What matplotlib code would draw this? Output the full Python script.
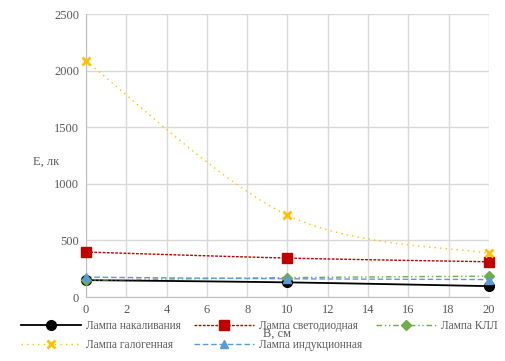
import numpy as np
import matplotlib.pyplot as plt

x = [0, 10, 20]
nakal = [150, 130, 97]
svetod = [398, 345, 312]
kll = [150, 172, 185]
galog = [2085, 724, 386]
indukc = [176, 162, 155]

labels = ['Лампа накаливания', 'Лампа светодиодная', 'Лампа КЛЛ',
          'Лампа галогенная', 'Лампа индукционная']


def smooth(xs, ys, n=40):
    # excel-like bezier smoothing
    xs = np.asarray(xs, float)
    ys = np.asarray(ys, float)
    px = np.concatenate([[xs[0]], xs, [xs[-1]]])
    py = np.concatenate([[ys[0]], ys, [ys[-1]]])
    ox, oy = [], []
    for i in range(1, len(px) - 2):
        p0 = np.array([px[i], py[i]])
        p3 = np.array([px[i + 1], py[i + 1]])
        p1 = p0 + (p3 - np.array([px[i - 1], py[i - 1]])) / 6
        p2 = p3 - (np.array([px[i + 2], py[i + 2]]) - p0) / 6
        t = np.linspace(0, 1, n)[:, None]
        b = (1 - t) ** 3 * p0 + 3 * (1 - t) ** 2 * t * p1 + 3 * (1 - t) * t ** 2 * p2 + t ** 3 * p3
        ox.extend(b[:, 0])
        oy.extend(b[:, 1])
    return ox, oy


plt.rcParams['font.family'] = ['Liberation Serif', 'DejaVu Serif']
grey = '#595959'

fig = plt.figure(figsize=(5.06, 3.61), dpi=100)
ax = fig.add_axes([0.170, 0.177, 0.796, 0.784])

styles = [
    dict(color='black', ls='-', marker='o', ms=7, lw=1.3),
    dict(color='#C00000', ls=(0, (2, 1)), marker='s', ms=7, lw=1.0),
    dict(color='#70AD47', ls=(0, (4, 2, 1, 2, 1, 2)), marker='D', ms=5, lw=1.0),
    dict(color='#FFC000', ls=(0, (1, 3)), marker='x', ms=6, lw=1.0),
    dict(color='#5B9BD5', ls=(0, (4, 2)), marker='^', ms=6, lw=1.0),
]
series = [nakal, svetod, kll, galog, indukc]
handles = []
for ys, st, lab in zip(series, styles, labels):
    sx, sy = smooth(x, ys)
    ax.plot(sx, sy, color=st['color'], ls=st['ls'], lw=st['lw'], zorder=2)
    ax.plot(x, ys, ls='none', marker=st['marker'], ms=st['ms'], color=st['color'],
            mew=2 if st['marker'] == 'x' else 1, zorder=3, clip_on=False)
    h, = ax.plot([], [], color=st['color'], ls=st['ls'], lw=st['lw'],
                 marker=st['marker'], ms=st['ms'], mew=2 if st['marker'] == 'x' else 1)
    handles.append(h)

ax.set_xlim(0, 20)
ax.set_ylim(0, 2500)
ax.set_xticks(range(0, 21, 2))
ax.set_yticks(range(0, 2501, 500))
ax.grid(True, color='#D9D9D9', lw=1)
ax.set_axisbelow(True)
for s in ['top', 'right']:
    ax.spines[s].set_visible(False)
for s in ['left', 'bottom']:
    ax.spines[s].set_color('#BFBFBF')
ax.tick_params(length=0, labelsize=9, labelcolor=grey, pad=5)

fig.text(33 / 506, 1 - 162 / 361, 'E, лк', fontsize=9, color=grey, ha='left', va='center')
fig.text(277 / 506, 1 - 334 / 361, 'В, см', fontsize=9, color=grey, ha='center', va='center')

# legend fills column by column -> reorder so rows read as in the original
order = [0, 3, 1, 4, 2]
fig.legend(handles=[handles[i] for i in order], labels=[labels[i] for i in order],
           ncol=3, loc='upper left',
           bbox_to_anchor=(0.033, 0.126), frameon=False, fontsize=8.3,
           labelcolor=grey, handlelength=5.2, columnspacing=1.2,
           handletextpad=0.4, borderaxespad=0, labelspacing=0.6)

fig.savefig('out.png', dpi=100)
